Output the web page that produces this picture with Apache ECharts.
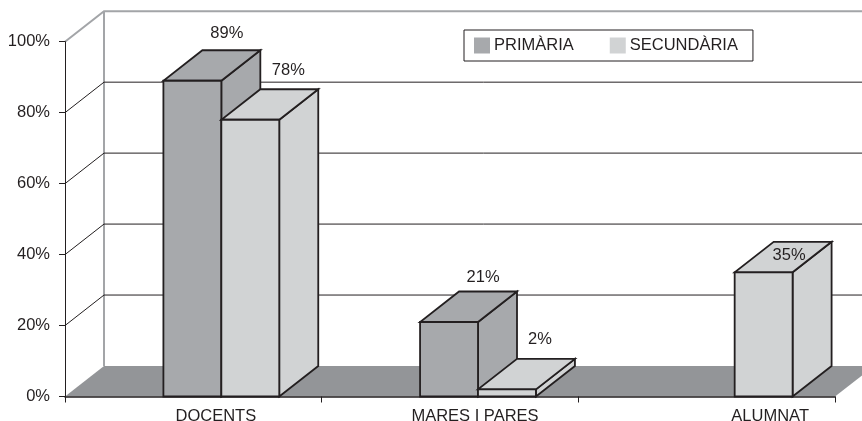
<!DOCTYPE html>
<html>
<head>
<meta charset="utf-8">
<style>html,body{margin:0;padding:0;background:#fff}#c{width:862px;height:421px}</style>
<script src="https://cdn.jsdelivr.net/npm/echarts@6/dist/echarts.min.js"></script>
</head>
<body>
<div id="c"></div>
<script>
const categories = ['DOCENTS', 'MARES I PARES', 'ALUMNAT'];
const primaria = [89, 21, null];
const secundaria = [78, 2, 35];
const gridValues = [20, 40, 60, 80, 100];
const floorValue = [0];

const labelOffsets = [
  [[34.5, -47.6], [34, -45], [0, 0]],
  [[38, -49.6], [33, -50], [25.5, -17]]
];

const DX = 39, DY = -30.5;
const INK = '#231f20';
const C1 = '#a7a9ac', C2 = '#d1d3d4', FLOOR = '#939598', WALL = '#a3a5a8';
const FONT = '"Liberation Sans", Arial, sans-serif';
const FS = 16.5;

function barRender(side) {
  return function (params, api) {
    const v = api.value(1);
    if (v == null || isNaN(v)) return;
    const idx = api.value(0);
    const base = api.coord([idx, 0]);
    const top = api.coord([idx, v]);
    const bw = api.size([1, 0])[0] * 0.2257;
    const cx = base[0] + 28;
    const x0 = side === 0 ? cx - bw : cx;
    const x1 = x0 + bw;
    const style = { fill: side === 0 ? C1 : C2, stroke: INK, lineWidth: 1.8, lineJoin: 'miter' };
    const poly = pts => ({ type: 'polygon', shape: { points: pts }, style });
    const off = labelOffsets[side][idx];
    return {
      type: 'group',
      children: [
        poly([[x1, base[1]], [x1 + DX, base[1] + DY], [x1 + DX, top[1] + DY], [x1, top[1]]]),
        poly([[x0, top[1]], [x1, top[1]], [x1 + DX, top[1] + DY], [x0 + DX, top[1] + DY]]),
        poly([[x0, base[1]], [x1, base[1]], [x1, top[1]], [x0, top[1]]]),
        {
          type: 'text', z2: 50,
          style: {
            text: v + '%', font: FS + 'px ' + FONT, fill: INK,
            x: (x0 + x1) / 2 + off[0], y: top[1] + off[1],
            align: 'center', verticalAlign: 'middle'
          }
        }
      ]
    };
  };
}

function wallRender(params, api) {
  const v = api.value(0);
  const a = api.coord([0, v]);
  const left = a[0] - api.size([1, 0])[0] / 2;
  const far = left + api.size([1, 0])[0] * 3 + DX;
  const isTop = v === 100;
  const style = { stroke: isTop ? WALL : INK, lineWidth: isTop ? 2 : 1, fill: 'none' };
  return {
    type: 'polyline',
    shape: { points: [[left, a[1]], [left + DX, a[1] + DY], [far, a[1] + DY]] },
    style
  };
}

function floorRender(params, api) {
  const a = api.coord([0, api.value(0)]);
  const bw = api.size([1, 0])[0];
  const left = a[0] - bw / 2, right = left + bw * 3;
  const top = api.coord([0, 100]);
  return {
    type: 'group',
    children: [
      { type: 'polygon', shape: { points: [[left, a[1]], [left + DX, a[1] + DY], [right + DX, a[1] + DY], [right, a[1]]] }, style: { fill: FLOOR } },
      { type: 'line', shape: { x1: left + DX, y1: a[1] + DY, x2: left + DX, y2: top[1] + DY }, style: { stroke: WALL, lineWidth: 2 } }
    ]
  };
}

const labelShift = { 'DOCENTS': 45, 'MARES I PARES': 50, 'ALUMNAT': 127 };
const rich = {};
categories.forEach((c, i) => {
  rich['c' + i] = { padding: [0, 0, 0, labelShift[c]], fontSize: FS, fontFamily: FONT, color: INK };
});

const chart = echarts.init(document.getElementById('c'), null, { renderer: 'canvas' });
chart.setOption({
  animation: false,
  backgroundColor: '#fff',
  grid: { left: 65, top: 41.7, width: 770, height: 354.8, outerBoundsMode: 'none' },
  legend: {
    left: 464, top: 30, orient: 'horizontal',
    data: [
      { name: 'PRIMÀRIA', icon: 'rect', itemStyle: { color: C1, borderWidth: 0 } },
      { name: 'SECUNDÀRIA', icon: 'rect', itemStyle: { color: C2, borderWidth: 0 } }
    ],
    itemWidth: 16, itemHeight: 16, itemGap: 36,
    padding: [7, 15, 7, 10],
    borderColor: INK, borderWidth: 1,
    textStyle: { color: INK, fontSize: FS, fontFamily: FONT, padding: [0, 0, 0, -1] }
  },
  xAxis: {
    type: 'category', data: categories, boundaryGap: true, z: 3,
    axisLine: { lineStyle: { color: INK, width: 1.5 } },
    axisTick: { show: true, length: 6, lineStyle: { color: INK, width: 1 } },
    axisLabel: {
      margin: 11, interval: 0,
      formatter: (val) => '{c' + categories.indexOf(val) + '|' + val + '}',
      rich
    }
  },
  yAxis: {
    type: 'value', min: 0, max: 100, interval: 20, z: 3,
    axisLine: { show: true, lineStyle: { color: INK, width: 1 } },
    axisTick: { show: true, length: 6, lineStyle: { color: INK, width: 1 } },
    axisLabel: { formatter: '{value}%', fontSize: FS, fontFamily: FONT, color: INK, margin: 15 },
    splitLine: { show: false }
  },
  series: [
    { type: 'custom', name: 'floor', coordinateSystem: 'cartesian2d', renderItem: floorRender, data: floorValue.map(v => [v]), z: 1, clip: false, silent: true },
    { type: 'custom', name: 'grid', coordinateSystem: 'cartesian2d', renderItem: wallRender, data: gridValues.map(v => [v]), z: 1, clip: false, silent: true },
    { type: 'custom', name: 'PRIMÀRIA', coordinateSystem: 'cartesian2d', renderItem: barRender(0), data: categories.map((c, i) => [i, primaria[i]]), itemStyle: { color: C1 }, z: 2, clip: false },
    { type: 'custom', name: 'SECUNDÀRIA', coordinateSystem: 'cartesian2d', renderItem: barRender(1), data: categories.map((c, i) => [i, secundaria[i]]), itemStyle: { color: C2 }, z: 2, clip: false }
  ]
});
</script>
</body>
</html>
